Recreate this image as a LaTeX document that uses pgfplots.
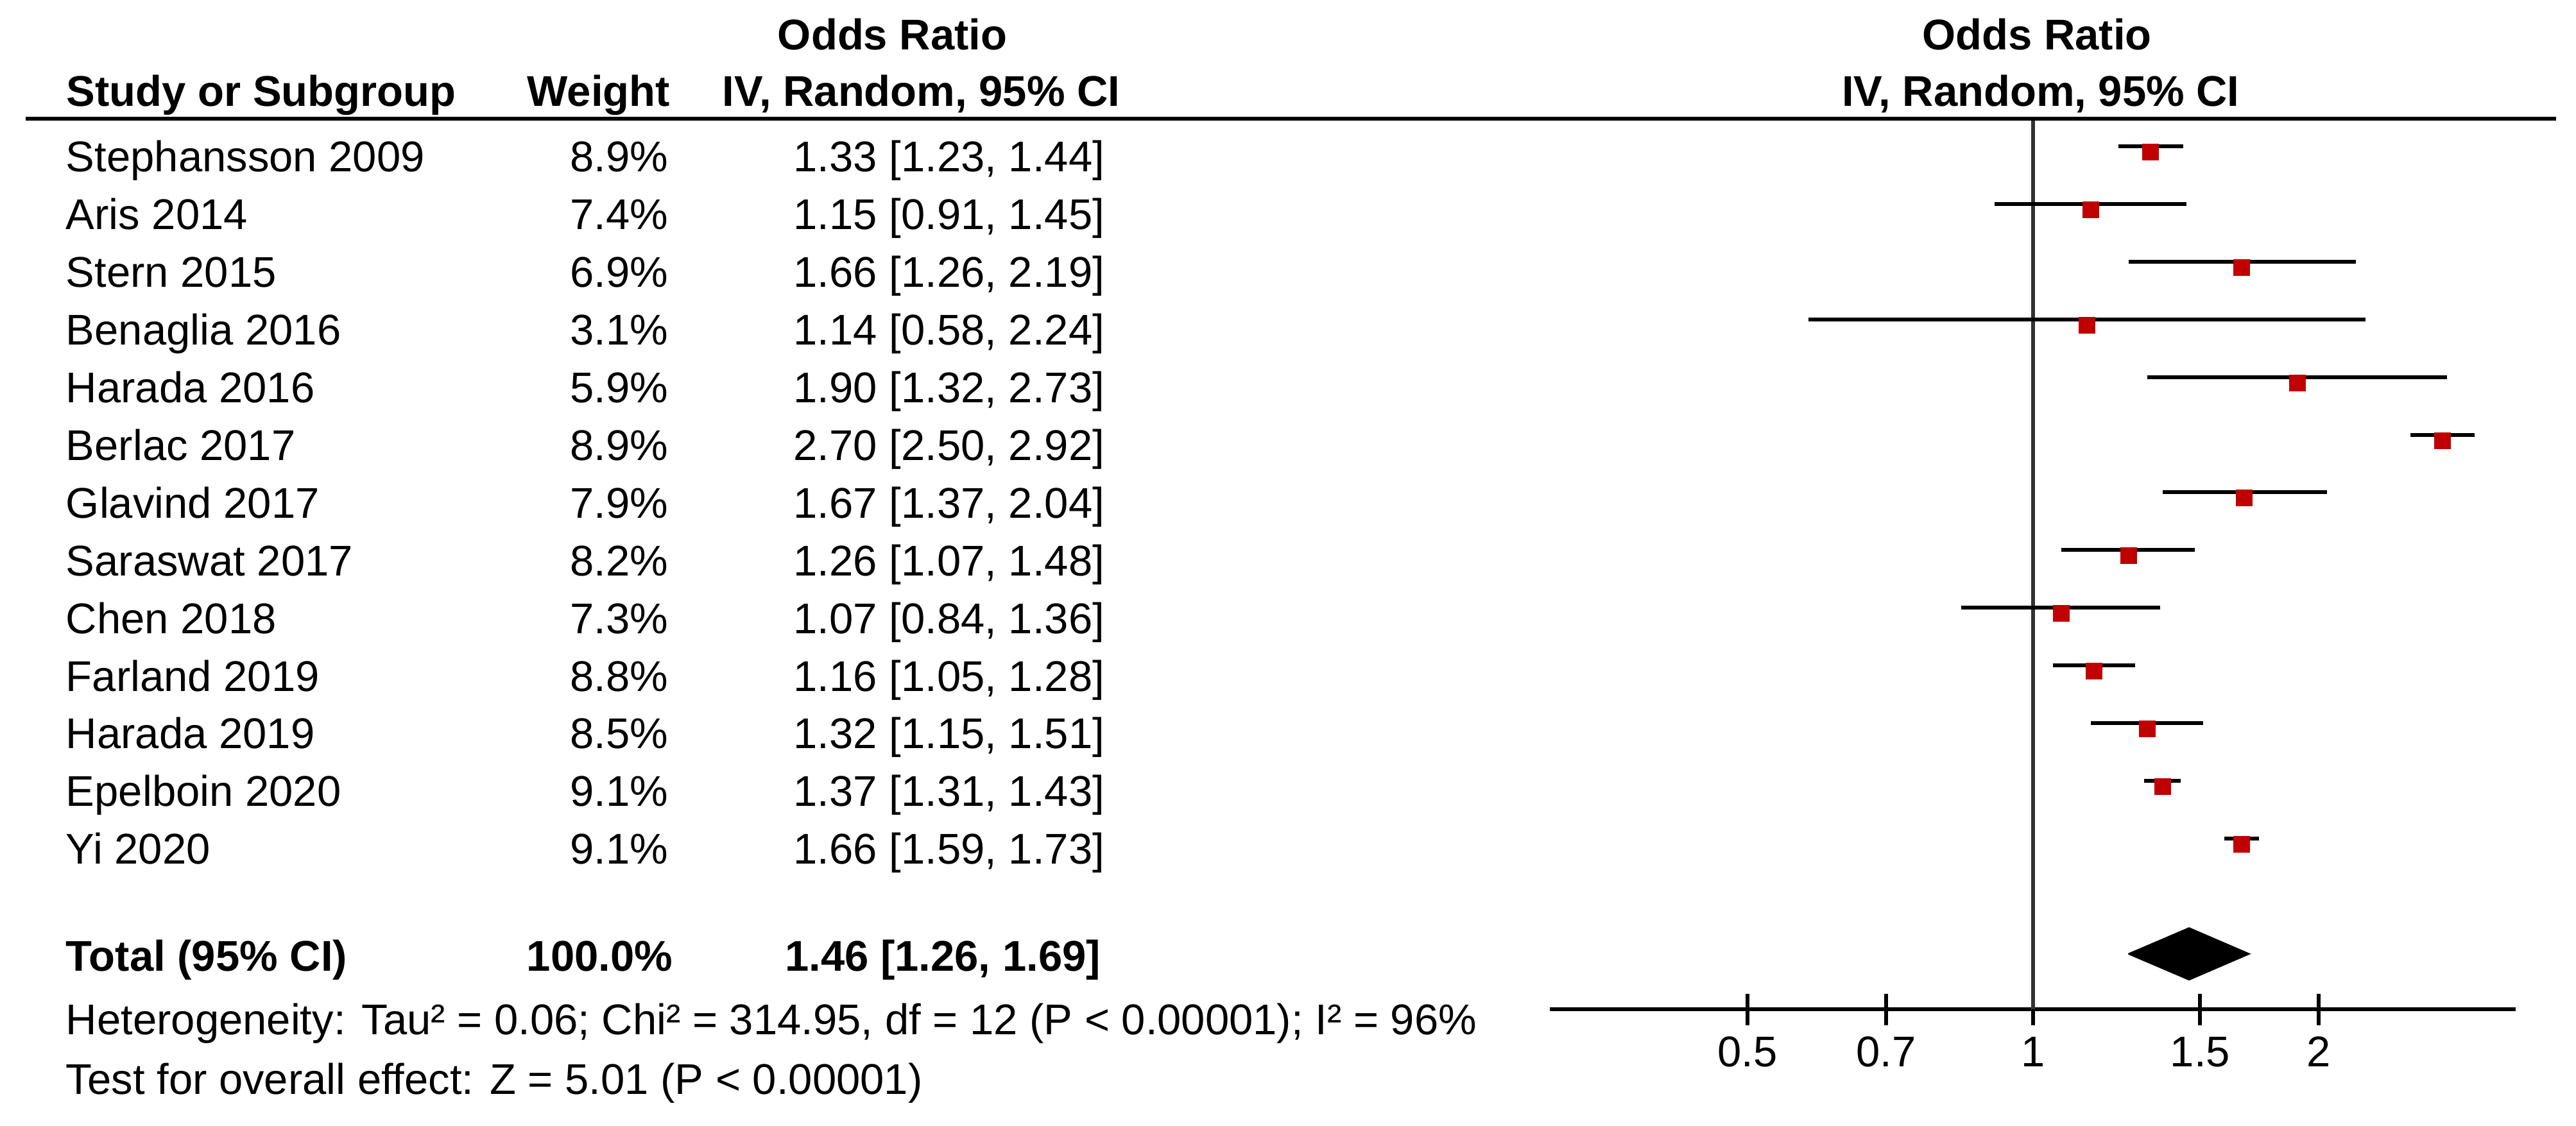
\documentclass[border=0pt]{standalone}
\usepackage{pgfplots}
\usepackage{pgfplotstable}
\usepackage{fontspec}
\setmainfont{Liberation Sans}
\pgfplotsset{compat=1.18}
\definecolor{orred}{RGB}{192,0,0}
\definecolor{nullgray}{RGB}{51,51,51}
\newcommand\fs{\fontsize{13.4bp}{16bp}\selectfont}

% row, odds ratio, lower and upper 95% limits
\pgfplotstableread{
row or lo hi
1 1.33 1.23 1.44
2 1.15 0.91 1.45
3 1.66 1.26 2.19
4 1.14 0.58 2.24
5 1.90 1.32 2.73
6 2.70 2.50 2.92
7 1.67 1.37 2.04
8 1.26 1.07 1.48
9 1.07 0.84 1.36
10 1.16 1.05 1.28
11 1.32 1.15 1.51
12 1.37 1.31 1.43
13 1.66 1.59 1.73
}\studies

\begin{document}
\begin{tikzpicture}
\path[use as bounding box] (0,0) rectangle (802.8bp,-351bp);

\begin{axis}[
    at={(483bp,-314.6bp)}, anchor=south west,
    scale only axis,
    width=301bp, height=277.6bp,
    xmode=log,
    xmin=0.3095, xmax=3.2255,
    ymin=0.522, ymax=15.96,
    y dir=reverse,
    axis x line*=bottom,
    axis y line=none,
    x axis line style={-, line width=1.2bp, black},
    xtick={0.5,0.7,1,1.5,2},
    xticklabels={0.5,0.7,1,1.5,2},
    minor xtick={},
    ytick=\empty,
    tick align=center,
    major tick length=9.8bp,
    major tick style={line width=1.2bp, black},
    xticklabel style={font=\fs, inner sep=0pt, anchor=base, yshift=-13bp},
    /pgf/number format/assume math mode=true,
    clip=false,
]
\draw[nullgray, line width=1.2bp] (axis cs:1,0.522) -- (axis cs:1,15.96);

% confidence intervals
\addplot[draw=none, mark=none, forget plot,
    error bars/.cd, x dir=both, x explicit,
    error mark=none,
    error bar style={solid, draw=black, line width=1.2bp}]
  table[x=or, y=row,
        x error plus expr=\thisrow{hi}-\thisrow{or},
        x error minus expr=\thisrow{or}-\thisrow{lo}] {\studies};

% point estimates
\addplot[only marks, mark=square*, mark size=2.4bp, color=orred,
    mark options={yshift=-1.8bp}]
  table[x=or, y=row] {\studies};

% pooled estimate 1.46 [1.26, 1.69]
\addplot[fill=black, draw=black, line width=0.4bp]
  coordinates {(1.26,15) (1.46,14.55) (1.69,15) (1.46,15.45) (1.26,15)};
\end{axis}

\begin{scope}[x=0.2bp, y=-0.2bp, every node/.style={inner sep=0pt, font=\fs}]
\draw[line width=1.2bp] (40,185) -- (3983,185);

\node[anchor=base west, font=\fs\bfseries] at (1211,77) {Odds Ratio};
\node[anchor=base west, font=\fs\bfseries] at (103,165) {Study or Subgroup};
\node[anchor=base east, font=\fs\bfseries] at (1045,165) {Weight};
\node[anchor=base west, font=\fs\bfseries] at (1125,165) {IV, Random, 95\% CI};
\node[anchor=base, font=\fs\bfseries] at (3174,77) {Odds Ratio};
\node[anchor=base, font=\fs\bfseries] at (3180,165) {IV, Random, 95\% CI};

\foreach \k/\name/\w/\ci in {
    1/Stephansson 2009/8.9/{1.33 [1.23, 1.44]},
    2/Aris 2014/7.4/{1.15 [0.91, 1.45]},
    3/Stern 2015/6.9/{1.66 [1.26, 2.19]},
    4/Benaglia 2016/3.1/{1.14 [0.58, 2.24]},
    5/Harada 2016/5.9/{1.90 [1.32, 2.73]},
    6/Berlac 2017/8.9/{2.70 [2.50, 2.92]},
    7/Glavind 2017/7.9/{1.67 [1.37, 2.04]},
    8/Saraswat 2017/8.2/{1.26 [1.07, 1.48]},
    9/Chen 2018/7.3/{1.07 [0.84, 1.36]},
    10/Farland 2019/8.8/{1.16 [1.05, 1.28]},
    11/Harada 2019/8.5/{1.32 [1.15, 1.51]},
    12/Epelboin 2020/9.1/{1.37 [1.31, 1.43]},
    13/Yi 2020/9.1/{1.66 [1.59, 1.73]}} {
  \pgfmathsetmacro\yb{268+89.9*(\k-1)}
  \node[anchor=base west] at (102,\yb) {\name};
  \node[anchor=base east] at (1042,\yb) {\w\%};
  \node[anchor=base east] at (1722,\yb) {\ci};
}

\node[anchor=base west, font=\fs\bfseries] at (102,1514) {Total (95\% CI)};
\node[anchor=base east, font=\fs\bfseries] at (1049,1514) {100.0\%};
\node[anchor=base east, font=\fs\bfseries] at (1716,1514) {1.46 [1.26, 1.69]};
\node[anchor=base west] at (102,1613) {Heterogeneity: Tau² = 0.06; Chi² = 314.95, df = 12 (P < 0.00001); I² = 96\%};
\node[anchor=base west] at (102,1706) {Test for overall effect: Z = 5.01 (P < 0.00001)};
\end{scope}
\end{tikzpicture}
\end{document}
